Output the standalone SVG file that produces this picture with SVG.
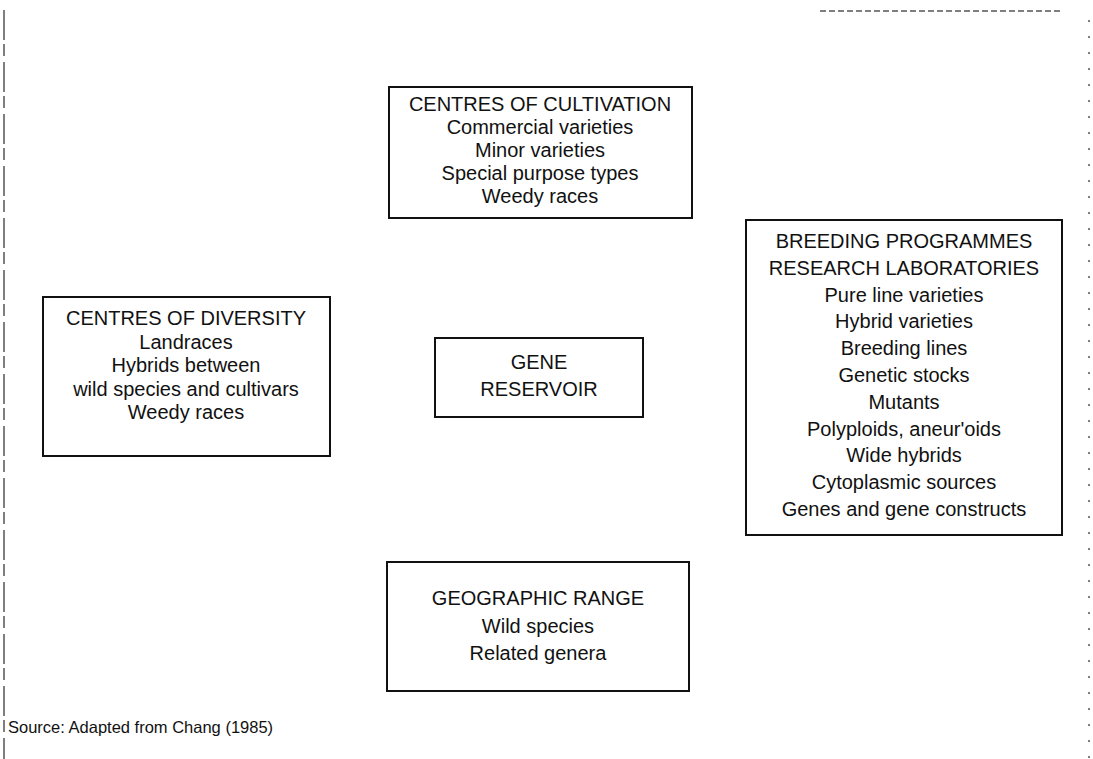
<svg xmlns="http://www.w3.org/2000/svg" width="1093" height="759" viewBox="0 0 1093 759">
<style>
.box{fill:#fff;stroke:#111;stroke-width:2}
.t{font-family:"Liberation Sans",Arial,sans-serif;font-size:20px;fill:#111;text-anchor:middle}
.src{font-family:"Liberation Sans",Arial,sans-serif;font-size:16.5px;fill:#111}
.frame{stroke:#555;stroke-width:1.5;fill:none}
</style>
<rect width="1093" height="759" fill="#fff"/>
<g id="frame">
<path class="frame" d="M4 10V759" stroke-dasharray="30 4 12 6"/>
<path class="frame" d="M1089 20V759" stroke="#999" stroke-width="1" stroke-dasharray="2 14"/>
<path class="frame" d="M820 11H1060" stroke="#aaa" stroke-width="1" stroke-dasharray="6 3"/>
</g>
<g id="connectors"></g>
<g id="cultivation">
<rect class="box" x="389" y="87" width="303" height="131"/>
<text class="t" x="540" y="111">CENTRES OF CULTIVATION</text>
<text class="t" x="540" y="134">Commercial varieties</text>
<text class="t" x="540" y="157">Minor varieties</text>
<text class="t" x="540" y="180">Special purpose types</text>
<text class="t" x="540" y="203">Weedy races</text>
</g>
<g id="diversity">
<rect class="box" x="43" y="297" width="287" height="159"/>
<text class="t" x="186" y="325">CENTRES OF DIVERSITY</text>
<text class="t" x="186" y="349">Landraces</text>
<text class="t" x="186" y="372">Hybrids between</text>
<text class="t" x="186" y="396">wild species and cultivars</text>
<text class="t" x="186" y="419">Weedy races</text>
</g>
<g id="reservoir">
<rect class="box" x="435" y="338" width="208" height="79"/>
<text class="t" x="539" y="369">GENE</text>
<text class="t" x="539" y="396">RESERVOIR</text>
</g>
<g id="breeding">
<rect class="box" x="746" y="220" width="316" height="315"/>
<text class="t" x="904" y="248">BREEDING PROGRAMMES</text>
<text class="t" x="904" y="275">RESEARCH LABORATORIES</text>
<text class="t" x="904" y="302">Pure line varieties</text>
<text class="t" x="904" y="328">Hybrid varieties</text>
<text class="t" x="904" y="355">Breeding lines</text>
<text class="t" x="904" y="382">Genetic stocks</text>
<text class="t" x="904" y="409">Mutants</text>
<text class="t" x="904" y="436">Polyploids, aneur'oids</text>
<text class="t" x="904" y="462">Wide hybrids</text>
<text class="t" x="904" y="489">Cytoplasmic sources</text>
<text class="t" x="904" y="516">Genes and gene constructs</text>
</g>
<g id="geographic">
<rect class="box" x="387" y="562" width="302" height="129"/>
<text class="t" x="538" y="605">GEOGRAPHIC RANGE</text>
<text class="t" x="538" y="633">Wild species</text>
<text class="t" x="538" y="660">Related genera</text>
</g>
<text class="src" x="8" y="733">Source: Adapted from Chang (1985)</text>
</svg>
